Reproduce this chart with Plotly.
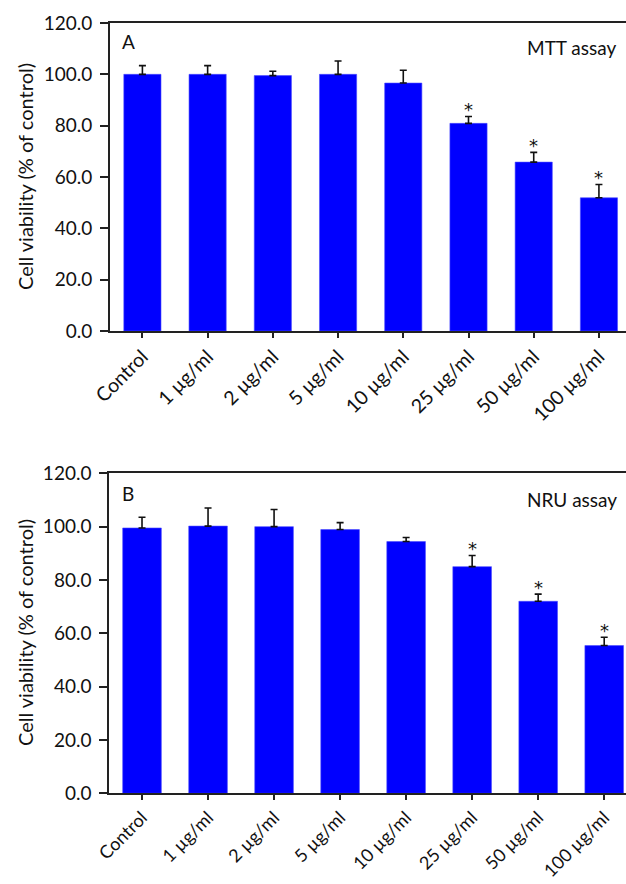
import plotly.graph_objects as go

categories = ["Control", "1 µg/ml", "2 µg/ml", "5 µg/ml", "10 µg/ml", "25 µg/ml", "50 µg/ml", "100 µg/ml"]
mtt_mean = [100.0, 100.0, 99.5, 100.0, 96.6, 80.9, 65.8, 51.9]
mtt_err = [3.4, 3.4, 1.7, 5.2, 5.0, 2.7, 3.8, 5.2]
nru_mean = [99.5, 100.2, 100.0, 98.9, 94.4, 85.0, 72.0, 55.4]
nru_err = [4.0, 6.8, 6.4, 2.6, 1.5, 4.2, 2.7, 3.1]
significant = [False, False, False, False, False, True, True, True]
y_ticks = [0, 20, 40, 60, 80, 100, 120]

W, H = 626, 884
FONT = "Lato, 'Open Sans', sans-serif"
BLUE = "#0000FF"
LINE = "#222222"

fig = go.Figure()
xs = list(range(len(categories)))

fig.add_trace(go.Bar(
    x=xs, y=mtt_mean, width=0.57, marker=dict(color=BLUE, line=dict(color="#4a4aff", width=0.6)),
    error_y=dict(type="data", array=mtt_err, arrayminus=[0] * len(mtt_err), symmetric=False,
                 color="#111111", thickness=1.6, width=3.5),
    xaxis="x", yaxis="y", showlegend=False, hoverinfo="skip"))
fig.add_trace(go.Bar(
    x=xs, y=nru_mean, width=0.585, marker=dict(color=BLUE, line=dict(color="#4a4aff", width=0.6)),
    error_y=dict(type="data", array=nru_err, arrayminus=[0] * len(nru_err), symmetric=False,
                 color="#111111", thickness=1.6, width=3.5),
    xaxis="x2", yaxis="y2", showlegend=False, hoverinfo="skip"))

def py(px):
    return 1 - px / H

starfont = dict(family="'DejaVu Sans', sans-serif", size=18, color="#111")
annotations = []
for i, sig in enumerate(significant):
    if sig:
        annotations.append(dict(x=i, y=mtt_mean[i] + mtt_err[i], xref="x", yref="y", text="*",
                                showarrow=False, yanchor="bottom", yshift=-6, font=starfont))
        annotations.append(dict(x=i, y=nru_mean[i] + nru_err[i], xref="x2", yref="y2", text="*",
                                showarrow=False, yanchor="bottom", yshift=-6, font=starfont))

txtfont = dict(family=FONT, size=19, color="#111")
ytfont = dict(family=FONT, size=20, color="#111")
annotations += [
    dict(x=120 / W, y=py(41), xref="paper", yref="paper", text="A", showarrow=False,
         xanchor="left", yanchor="middle", font=txtfont),
    dict(x=618 / W, y=py(47), xref="paper", yref="paper", text="MTT assay", showarrow=False,
         xanchor="right", yanchor="middle", font=txtfont),
    dict(x=120 / W, y=py(493), xref="paper", yref="paper", text="B", showarrow=False,
         xanchor="left", yanchor="middle", font=txtfont),
    dict(x=619 / W, y=py(499), xref="paper", yref="paper", text="NRU assay", showarrow=False,
         xanchor="right", yanchor="middle", font=txtfont),
    dict(x=25 / W, y=py(177), xref="paper", yref="paper", text="Cell viability (% of control)",
         showarrow=False, textangle=-90, xanchor="center", yanchor="middle", font=ytfont),
    dict(x=25 / W, y=py(633), xref="paper", yref="paper", text="Cell viability (% of control)",
         showarrow=False, textangle=-90, xanchor="center", yanchor="middle", font=ytfont),
]

xcommon = dict(tickmode="array", tickvals=xs, ticktext=categories, tickangle=-45,
               ticks="outside", ticklen=5, tickwidth=1.5, tickcolor=LINE,
               showline=True, linecolor=LINE, linewidth=1.5, mirror=True,
               showgrid=False, zeroline=False, automargin=False)
ycommon = dict(range=[0, 120], tickmode="array", tickvals=y_ticks, tickformat=".1f",
               ticks="outside", ticklen=8, tickwidth=1.5, tickcolor=LINE,
               showline=True, linecolor=LINE, linewidth=1.5, mirror=False,
               showgrid=False, zeroline=False, automargin=False, ticklabelstandoff=4,
               tickfont=dict(family=FONT, size=19, color="#111"))

fig.update_layout(
    width=W, height=H, margin=dict(l=0, r=0, t=0, b=0),
    paper_bgcolor="white", plot_bgcolor="white", bargap=0.4,
    xaxis=dict(domain=[109.8 / W, 1.0], range=[-0.5, 7.415], anchor="y",
               tickfont=dict(family=FONT, size=19.5, color="#111"), **xcommon),
    yaxis=dict(domain=[py(331), py(23)], anchor="x", **ycommon),
    xaxis2=dict(domain=[109.0 / W, 1.0], range=[-0.5, 7.33], anchor="y2",
                tickfont=dict(family=FONT, size=18, color="#111"), **xcommon),
    yaxis2=dict(domain=[py(793.3), py(473.3)], anchor="x2", **ycommon),
    annotations=annotations,
)

fig.write_html("out.html", config={"displayModeBar": False},
               post_script="document.body.style.margin='0';document.body.style.overflow='hidden';")
